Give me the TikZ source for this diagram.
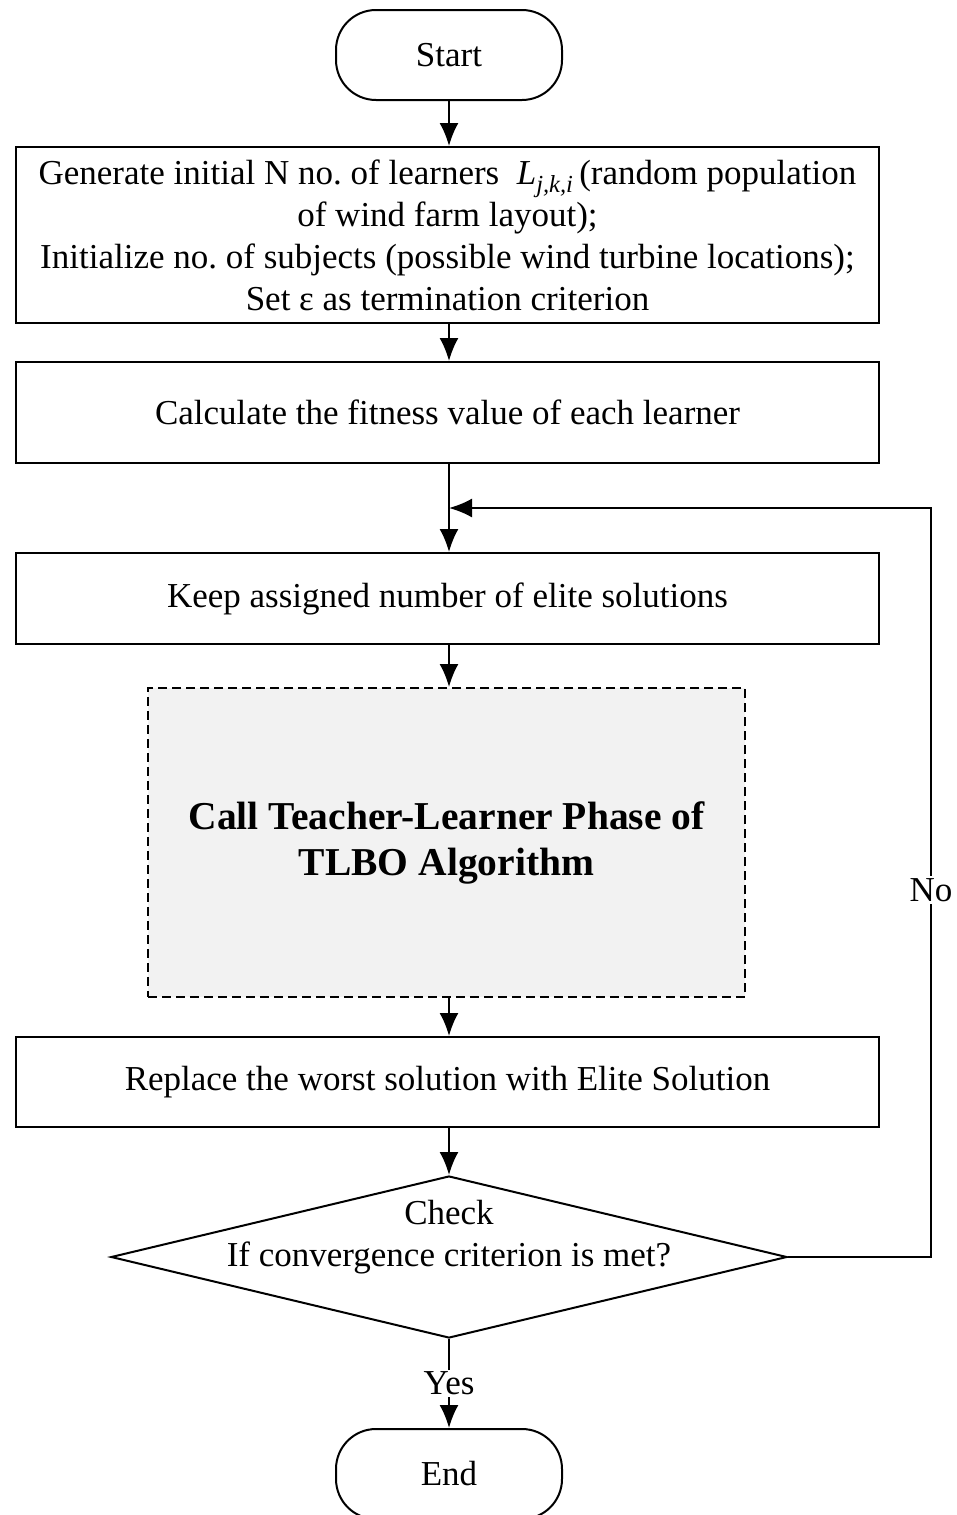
\documentclass[tikz,border=0pt]{standalone}
\usepackage{fontspec}
\setmainfont{Liberation Serif}
\usetikzlibrary{shapes.geometric,arrows.meta}
\frenchspacing

\begin{document}
\begin{tikzpicture}[x=1pt,y=-1pt,
   font=\fontsize{35}{42}\selectfont,
   line width=2pt,
   term/.style={draw, rounded corners=40pt, minimum width=226pt, minimum height=90pt, inner sep=0pt},
   box/.style={draw, minimum width=863pt, inner sep=0pt, align=center},
   callbox/.style={draw, dash pattern=on 9pt off 5pt, fill=black!5, minimum width=597pt,
      minimum height=309pt, inner sep=0pt, align=center, font=\fontsize{39.5}{46}\selectfont\bfseries},
   decision/.style={draw, diamond, minimum width=676pt, minimum height=162pt, inner sep=0pt},
   arr/.style={-{Latex[length=23pt,width=19pt]}},
   lbl/.style={fill=white, inner sep=2pt}]%
   \useasboundingbox (0,0) rectangle (957,1515);
   \node[term] (start) at (449,55) {Start};
   \node[box, minimum height=176pt] (init) at (447.5,235) {Generate initial N no. of learners \ \textit{L}\textsubscript{\textit{j,k,i}}\,(random population\\of wind farm layout);\\Initialize no. of subjects (possible wind turbine locations);\\Set ε as termination criterion};
   \node[box, minimum height=101pt] (fit) at (447.5,412.5) {Calculate the fitness value of each learner};
   \node[box, minimum height=91pt] (keep) at (447.5,598.5) {Keep assigned number of elite solutions};
   \node[callbox] (tlbo) at (446.5,842.5) {Call Teacher-Learner Phase of\\TLBO Algorithm};
   \node[box, minimum height=90pt] (repl) at (447.5,1082) {Replace the worst solution with Elite Solution};
   \node[decision] (check) at (449,1257) {};
   \node[align=center] (checktxt) at (449,1237) {Check\\If convergence criterion is met?};
   \node[term] (end) at (449,1474) {End};
   \coordinate (back) at (931,508);
   \coordinate (join) at (449,508);
   \draw[arr] (start) -- (start |- init.north);
   \draw[arr] (init.south -| start) -- (start |- fit.north);
   \draw[arr] (fit.south -| start) -- (start |- keep.north);
   \draw[arr] (keep.south -| start) -- (start |- tlbo.north);
   \draw[arr] (tlbo.south -| start) -- (start |- repl.north);
   \draw[arr] (repl.south -| start) -- (check.north);
   \draw[arr] (check.south) -- node[lbl] {Yes} (end.north);
   \draw[arr] (check.east) -| node[lbl, pos=0.745] {No} (back) -- (join);
\end{tikzpicture}
\end{document}
